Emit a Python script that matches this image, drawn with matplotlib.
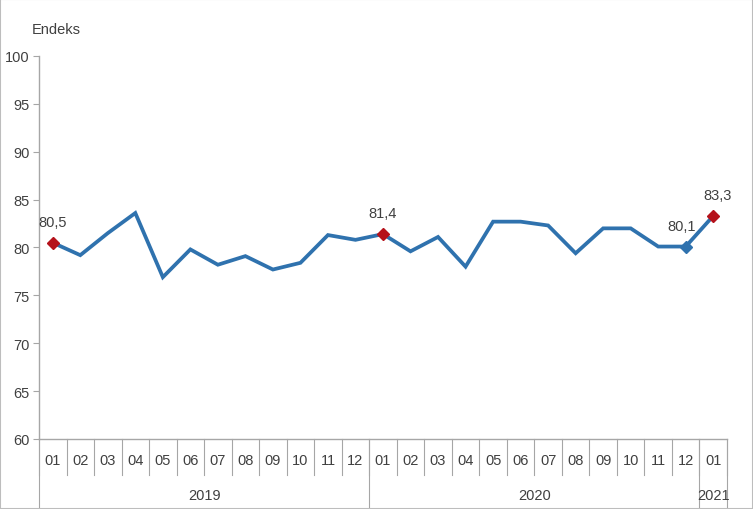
"""
Endeks line chart, monthly 2019-01 .. 2021-01.
"""

import matplotlib.pyplot as plt
import matplotlib.transforms as mtransforms
from matplotlib.patches import Rectangle

months = ["01", "02", "03", "04", "05", "06", "07", "08", "09", "10", "11", "12",
          "01", "02", "03", "04", "05", "06", "07", "08", "09", "10", "11", "12",
          "01"]
values = [80.5, 79.2, 81.5, 83.6, 76.9, 79.8, 78.2, 79.1, 77.7, 78.4, 81.3, 80.8,
          81.4, 79.6, 81.1, 78.0, 82.7, 82.7, 82.3, 79.4, 82.0, 82.0, 80.1, 80.1,
          83.3]
years = ["2019", "2020", "2021"]
year_counts = [12, 12, 1]

# points that get a marker and a value label
red_points = [0, 12, 24]
blue_points = [23]
labels = {0: "80,5", 12: "81,4", 23: "80,1", 24: "83,3"}

plt.rcParams['font.family'] = ['Liberation Sans Narrow', 'Liberation Sans', 'DejaVu Sans']

line_color = "#2F72AE"
red_color = "#B5121B"
grey = "#A6A6A6"
text_color = "#404040"

fig = plt.figure(figsize=(7.53, 5.10), dpi=100)
ax = fig.add_axes([39 / 753, 70 / 510, 688 / 753, 383 / 510])

x = list(range(len(values)))
ax.plot(x, values, color=line_color, linewidth=2.7, solid_joinstyle="miter", zorder=3)
ax.plot([x[i] for i in red_points], [values[i] for i in red_points], linestyle="none",
        marker="D", markersize=6, color=red_color, zorder=4)
ax.plot([x[i] for i in blue_points], [values[i] for i in blue_points], linestyle="none",
        marker="D", markersize=6, color=line_color, zorder=4)

# small horizontal nudges so the last two labels don't collide with the line
nudge = {23: -3, 24: 3}
for i, txt in labels.items():
    ax.annotate(txt, (x[i], values[i]), xytext=(nudge.get(i, 0), 10),
                textcoords="offset points", ha="center", va="bottom",
                fontsize=10.5, color=text_color)

ax.set_xlim(-0.5, len(values) - 0.5)
ax.set_ylim(60, 100)
ax.set_yticks(range(60, 101, 5))
ax.tick_params(axis="y", length=4, width=0.8, color=grey, labelsize=10.5,
               labelcolor=text_color, pad=3)
ax.set_xticks(x)
ax.set_xticklabels(months)
ax.tick_params(axis="x", length=0, labelsize=10.5, labelcolor=text_color, pad=10)

for side in ["top", "right"]:
    ax.spines[side].set_visible(False)
for side in ["left", "bottom"]:
    ax.spines[side].set_color(grey)
    ax.spines[side].set_linewidth(1.0)

ax.text(-0.01, 1.07, "Endeks", transform=ax.transAxes, fontsize=10.5, color=text_color,
        ha="left", va="center")

# two-level category axis: month separators and year groups
trans = mtransforms.blended_transform_factory(ax.transData, ax.transAxes)
for k in range(len(values) + 1):
    ax.plot([k - 0.5, k - 0.5], [0, -0.095], transform=trans, color=grey,
            linewidth=0.8, clip_on=False)

start = 0
ax.plot([-0.5, -0.5], [0, -0.19], transform=trans, color=grey, linewidth=0.8, clip_on=False)
for year, n in zip(years, year_counts):
    end = start + n
    ax.plot([end - 0.5, end - 0.5], [0, -0.19], transform=trans, color=grey,
            linewidth=0.8, clip_on=False)
    ax.text((start + end - 1) / 2, -0.145, year, transform=trans, ha="center",
            va="center", fontsize=10.5, color=text_color)
    start = end

fig.patches.append(Rectangle((0, 0), 1, 1, transform=fig.transFigure, fill=False,
                             edgecolor="#BDBDBD", linewidth=1.5))

plt.savefig("out.png", dpi=100)
